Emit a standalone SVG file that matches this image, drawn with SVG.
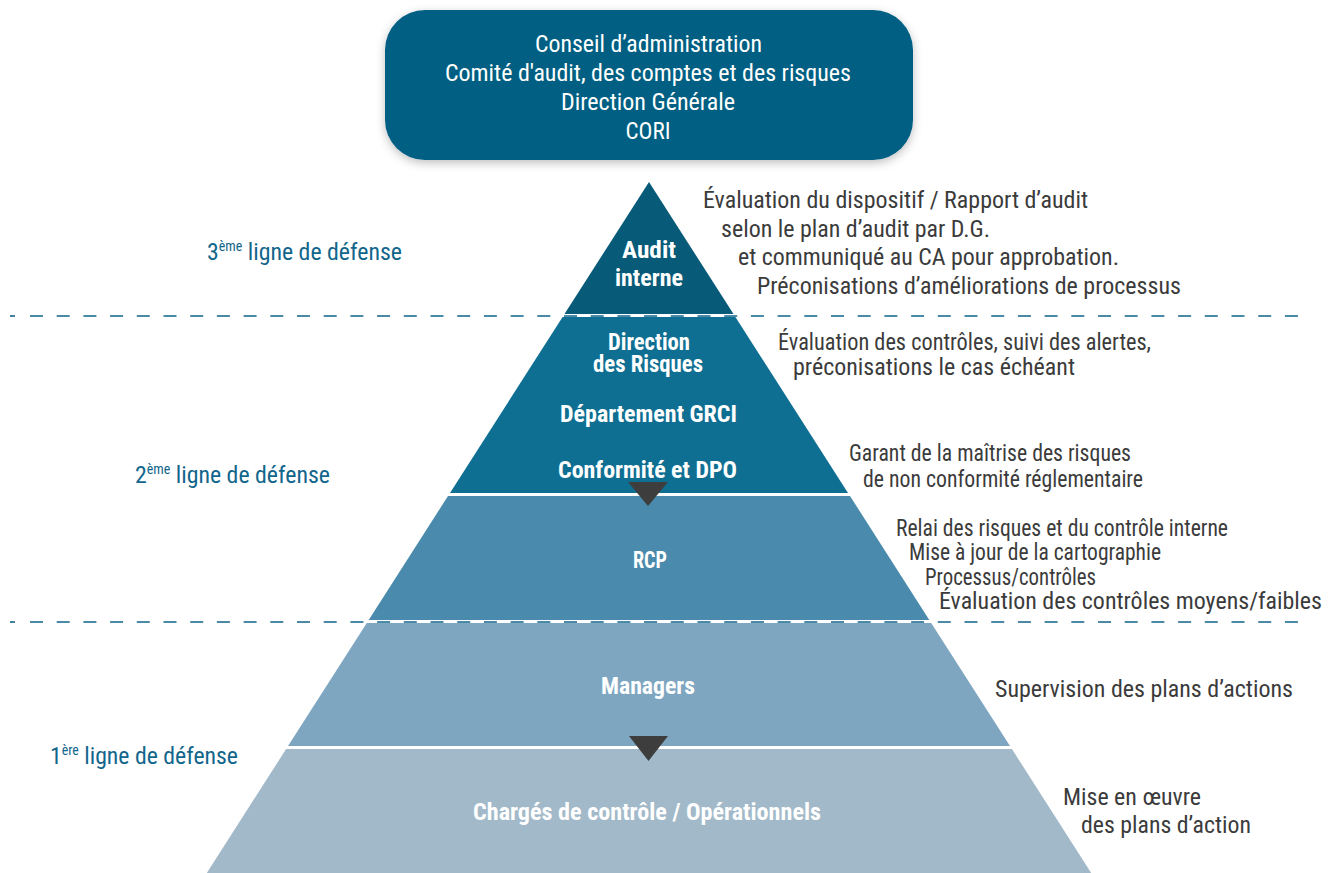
<svg xmlns="http://www.w3.org/2000/svg" width="1334" height="873" viewBox="0 0 1334 873">
  <defs>
    <filter id="softShadow" x="-10%" y="-20%" width="120%" height="150%">
      <feDropShadow dx="0" dy="3" stdDeviation="5" flood-color="#000" flood-opacity="0.25"/>
    </filter>
    <style>
      text { font-family: Roboto, "Liberation Sans", sans-serif; font-stretch: condensed; }
      .box-text { fill: #ffffff; font-size: 24px; text-anchor: middle; }
      .tier-text { fill: #ffffff; font-size: 23px; font-weight: bold; text-anchor: middle; }
      .note { fill: #3b3b3b; font-size: 23px; }
      .line-label { fill: #12668c; font-size: 24px; }
      .sup { font-size: 14px; }
      .separator { stroke: #11648a; stroke-width: 1.6; stroke-dasharray: 13 13.7; fill: none; }
      .flow { fill: #3d3d3d; }
    </style>
  </defs>
  <rect width="1334" height="873" fill="#ffffff"/>

  <!-- dashed separators between the lines of defence -->
  <g id="separators">
    <line class="separator" x1="30" y1="316" x2="1300" y2="316"/>
    <line class="separator" x1="30" y1="622" x2="1300" y2="622"/>
    <line x1="10" y1="316" x2="15" y2="316" stroke="#11648a" stroke-width="1.6"/>
    <line x1="10" y1="622" x2="15" y2="622" stroke="#11648a" stroke-width="1.6"/>
  </g>

  <!-- governance box -->
  <g id="governance">
    <rect x="385" y="10" width="528" height="150" rx="40" ry="40" fill="#035e82" filter="url(#softShadow)"/>
    <text class="box-text" x="648.5" y="52" textLength="227" lengthAdjust="spacingAndGlyphs">Conseil d’administration</text>
    <text class="box-text" x="648" y="81" textLength="406" lengthAdjust="spacingAndGlyphs">Comité d'audit, des comptes et des risques</text>
    <text class="box-text" x="648" y="110" textLength="174" lengthAdjust="spacingAndGlyphs">Direction Générale</text>
    <text class="box-text" x="648" y="139" textLength="45" lengthAdjust="spacingAndGlyphs">CORI</text>
  </g>

  <!-- pyramid tiers -->
  <g id="tier-audit">
    <polygon points="649,182 733.5,314 564.5,314" fill="#075a78"/>
    <text class="tier-text" x="649" y="258" textLength="54" lengthAdjust="spacingAndGlyphs">Audit</text>
    <text class="tier-text" x="649" y="286" textLength="68" lengthAdjust="spacingAndGlyphs">interne</text>
  </g>
  <g id="tier-risques">
    <polygon points="562.6,317 735.4,317 848,493 450,493" fill="#0f6f93"/>
    <text class="tier-text" x="649" y="350" textLength="82" lengthAdjust="spacingAndGlyphs">Direction</text>
    <text class="tier-text" x="648" y="372" textLength="110" lengthAdjust="spacingAndGlyphs">des Risques</text>
    <text class="tier-text" x="648.5" y="422" textLength="177" lengthAdjust="spacingAndGlyphs">Département GRCI</text>
    <text class="tier-text" x="647.5" y="478" textLength="179" lengthAdjust="spacingAndGlyphs">Conformité et DPO</text>
  </g>
  <g id="tier-rcp">
    <polygon points="448,496 850,496 929.3,620 368.7,620" fill="#4a8aac"/>
    <text class="tier-text" x="650" y="568" textLength="34" lengthAdjust="spacingAndGlyphs">RCP</text>
  </g>
  <g id="tier-managers">
    <polygon points="366.8,623 931.2,623 1010,746 288,746" fill="#7ea6c1"/>
    <text class="tier-text" x="648" y="694" textLength="94" lengthAdjust="spacingAndGlyphs">Managers</text>
  </g>
  <g id="tier-operationnels">
    <polygon points="286.1,749 1011.9,749 1091.2,873 206.8,873" fill="#a2b9c9"/>
    <text class="tier-text" x="647" y="820" textLength="348" lengthAdjust="spacingAndGlyphs">Chargés de contrôle / Opérationnels</text>
  </g>

  <!-- downward flow markers between tiers -->
  <g id="connectors">
    <polygon class="flow" points="628,482 668,482 648,506"/>
    <polygon class="flow" points="629,736 668,736 648.5,761"/>
  </g>

  <!-- line of defence labels -->
  <g id="label-line3">
    <text class="line-label" x="207" y="260" textLength="195" lengthAdjust="spacingAndGlyphs">3<tspan class="sup" dy="-9">ème</tspan><tspan dy="9"> ligne de défense</tspan></text>
  </g>
  <g id="label-line2">
    <text class="line-label" x="135" y="483" textLength="195" lengthAdjust="spacingAndGlyphs">2<tspan class="sup" dy="-9">ème</tspan><tspan dy="9"> ligne de défense</tspan></text>
  </g>
  <g id="label-line1">
    <text class="line-label" x="50" y="764" textLength="188" lengthAdjust="spacingAndGlyphs">1<tspan class="sup" dy="-9">ère</tspan><tspan dy="9"> ligne de défense</tspan></text>
  </g>

  <!-- role descriptions -->
  <g id="note-audit">
    <text class="note" x="703" y="208" textLength="385" lengthAdjust="spacingAndGlyphs">Évaluation du dispositif / Rapport d’audit</text>
    <text class="note" x="721" y="237" textLength="269" lengthAdjust="spacingAndGlyphs">selon le plan d’audit par D.G.</text>
    <text class="note" x="738" y="265" textLength="381" lengthAdjust="spacingAndGlyphs">et communiqué au CA pour approbation.</text>
    <text class="note" x="757" y="294" textLength="424" lengthAdjust="spacingAndGlyphs">Préconisations d’améliorations de processus</text>
  </g>
  <g id="note-risques">
    <text class="note" x="778" y="350" textLength="373" lengthAdjust="spacingAndGlyphs">Évaluation des contrôles, suivi des alertes,</text>
    <text class="note" x="793" y="375" textLength="282" lengthAdjust="spacingAndGlyphs">préconisations le cas échéant</text>
  </g>
  <g id="note-conformite">
    <text class="note" x="849" y="461" textLength="282" lengthAdjust="spacingAndGlyphs">Garant de la maîtrise des risques</text>
    <text class="note" x="863" y="487" textLength="280" lengthAdjust="spacingAndGlyphs">de non conformité réglementaire</text>
  </g>
  <g id="note-rcp">
    <text class="note" x="896" y="536" textLength="332" lengthAdjust="spacingAndGlyphs">Relai des risques et du contrôle interne</text>
    <text class="note" x="909" y="560" textLength="252" lengthAdjust="spacingAndGlyphs">Mise à jour de la cartographie</text>
    <text class="note" x="925" y="585" textLength="171" lengthAdjust="spacingAndGlyphs">Processus/contrôles</text>
    <text class="note" x="939" y="609" textLength="383" lengthAdjust="spacingAndGlyphs">Évaluation des contrôles moyens/faibles</text>
  </g>
  <g id="note-managers">
    <text class="note" x="995" y="697" textLength="298" lengthAdjust="spacingAndGlyphs">Supervision des plans d’actions</text>
  </g>
  <g id="note-operationnels">
    <text class="note" x="1063" y="805" textLength="138" lengthAdjust="spacingAndGlyphs">Mise en œuvre</text>
    <text class="note" x="1081" y="833" textLength="170" lengthAdjust="spacingAndGlyphs">des plans d’action</text>
  </g>
</svg>
